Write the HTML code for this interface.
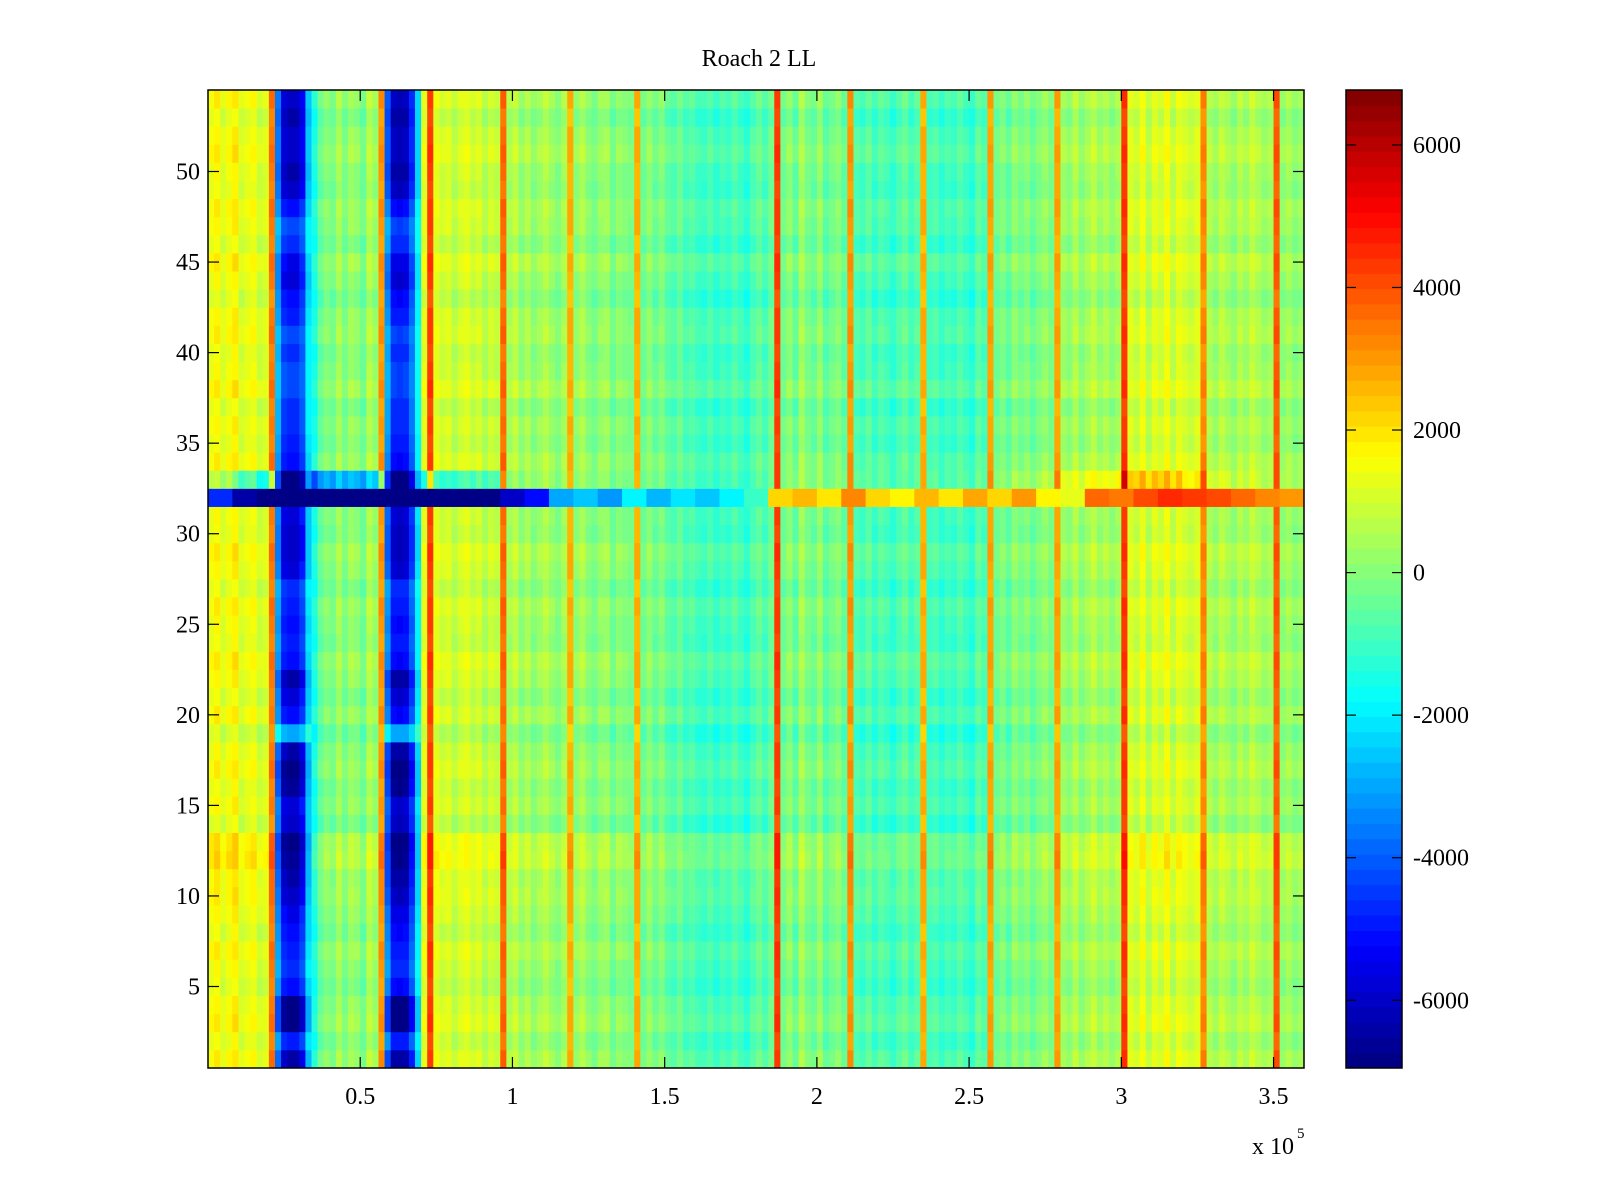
<!DOCTYPE html>
<html><head><meta charset="utf-8"><style>
html,body{margin:0;padding:0;background:#fff;}
svg{display:block;font-family:"Liberation Serif",serif;}
</style></head><body>
<svg id="fig" width="1600" height="1200" viewBox="0 0 1600 1200">
<text x="759" y="66" font-size="24" text-anchor="middle">Roach 2 LL</text>
<g id="cells"></g>
<g id="cbar"></g>
<g id="axes"></g>
</svg>
<script>
// column profile, each column spans 2000 units of x (0 .. 3.6e5)
const colValues = [
1400,1700,1100,1500,1800,1000,1300,1500,900,1100,3400,
-3500,-5500,-5800,-5800,-5000,-2500,-1500,-500,
0,-300,400,-200,300,100,-400,600,200,3000,
-3800,-5800,-5900,-5800,-4500,-2200,1200,4200,
1300,900,1100,600,1000,1200,800,1000,500,900,700,3600,
400,700,100,500,0,300,600,200,-100,400,2600,
100,500,0,-300,200,300,-400,100,-100,-200,2600,
-400,100,-500,0,-600,-800,-400,-900,-700,-1000,-1100,-800,-1200,-900,-1100,-700,-1000,-1300,-800,-500,-900,-400,4200,
-400,100,-600,400,-200,-500,200,-700,-300,0,-600,3000,
-800,-1000,-600,-1100,-700,-900,-1200,-800,-500,-1000,-700,2600,
-1000,-800,-1200,-900,-1100,-700,-1000,-1300,-600,-900,2800,
-400,-100,-600,100,-300,0,-500,-100,200,-200,2800,
300,100,600,0,400,700,200,500,100,400,4300,
1100,800,1400,600,1200,900,1500,700,1300,1000,800,1100,3200,
500,200,700,400,100,600,300,800,500,200,400,3800,
100,400,0,200
];
// per-row offsets for rows 1..54 (bottom to top)
const rowOffsets = [
200,-100,300,100,-200,0,250,-150,100,300,200,600,500,-300,100,-100,200,0,-400,150,
-200,100,300,-100,0,200,-200,100,300,-100,0,0,0,200,-100,100,-200,300,0,-100,
200,100,-300,0,300,-200,100,200,-100,0,300,100,-200,200
];
// depth of the two dark vertical bands per row
const bandDepth = [
1.1,0.85,1.2,1.2,0.9,0.8,0.85,0.9,0.95,1.05,1.1,1.15,1.2,1.05,1.0,1.15,1.2,1.1,0.5,0.9,
1.0,1.1,0.9,0.85,0.9,0.85,0.8,1.0,1.05,1.05,1.0,1.0,1.25,0.9,0.85,0.8,0.8,0.75,0.75,0.8,
0.75,0.85,0.9,1.0,0.95,0.8,0.75,0.9,1.05,1.1,1.05,1.05,1.1,1.05
];
// row 32 values, each spanning 8000 units of x
const row32Values = [
-4800,-6500,-6900,-6900,-6900,-6900,-6900,-6900,-6900,-6900,-6900,-6900,-6000,-5200,-3000,-2500,
-3200,-2000,-2800,-2200,-2600,-2000,-1000,2200,2600,2000,3200,2200,1800,2500,2000,2700,
2200,3000,1800,1200,3600,3400,4000,4600,4400,4000,3700,3300,3000
];
// row 33 offsets, each spanning 8000 units of x
const row33Offsets = [
-800,-2000,-2500,-2500,-2800,-2800,-2800,-2800,-2600,-2200,-1800,-1500,-300,0,0,0,
0,0,0,0,0,0,0,200,300,200,300,200,100,300,200,300,
400,500,600,900,1100,1300,1400,1200,800,600,400,300,300
];
const cbTicks = [6000,4000,2000,0,-2000,-4000,-6000];
const xTicks = [0.5,1,1.5,2,2.5,3,3.5];
const yTicks = [5,10,15,20,25,30,35,40,45,50];

const NS = "http://www.w3.org/2000/svg";
const PL=208, PR=1304, PT=90, PB=1068;
const XMIN=0, XMAX=360000, YMIN=0.5, YMAX=54.5;
const CMIN=-6950, CMAX=6770;
const xs = v => PL + (v-XMIN)/(XMAX-XMIN)*(PR-PL);
const ys = v => PB - (v-YMIN)/(YMAX-YMIN)*(PB-PT);
const cbY = v => PB - (v-CMIN)/(CMAX-CMIN)*(PB-PT);
function jet(t){
  t=Math.max(0,Math.min(0.99999,t));
  t=(Math.floor(t*64)+0.5)/64;
  const c=x=>Math.round(255*Math.max(0,Math.min(1,1.5-Math.abs(x))));
  return `rgb(${c(4*t-3)},${c(4*t-2)},${c(4*t-1)})`;
}
const colorOf = v => jet((v-CMIN)/(CMAX-CMIN));
function el(tag, attrs, parent){
  const e=document.createElementNS(NS,tag);
  for(const k in attrs) e.setAttribute(k,attrs[k]);
  parent.appendChild(e); return e;
}
const cells=document.getElementById('cells');
const colW=(XMAX-XMIN)/colValues.length;
for(let r=0;r<54;r++){
  const row=r+1;
  const y0=ys(row+0.5), y1=ys(row-0.5);
  for(let i=0;i<colValues.length;i++){
    const xc=XMIN+(i+0.5)*colW;
    let v;
    if(row===32){
      v=row32Values[Math.min(row32Values.length-1,Math.floor(xc/8000))];
    } else {
      const base=colValues[i];
      if(base<-2000) v=Math.max(CMIN, base*bandDepth[r]);
      else v=base+rowOffsets[r];
      if(row===33 && base>=-2000) v+=row33Offsets[Math.min(row33Offsets.length-1,Math.floor(xc/8000))];
    }
    const x0=xs(XMIN+i*colW), x1=xs(XMIN+(i+1)*colW);
    const rc=el('rect',{x:x0.toFixed(2),y:y0.toFixed(2),width:(x1-x0+0.4).toFixed(2),height:(y1-y0+0.4).toFixed(2),fill:colorOf(v)},cells);
    
    
  }
}
// colorbar
const cbar=document.getElementById('cbar');
const CBL=1346, CBR=1402;
for(let k=0;k<64;k++){
  const v0=CMIN+k*(CMAX-CMIN)/64, v1=CMIN+(k+1)*(CMAX-CMIN)/64;
  const rc=el('rect',{x:CBL,y:cbY(v1).toFixed(2),width:CBR-CBL,height:(cbY(v0)-cbY(v1)+0.5).toFixed(2),fill:jet((k+0.5)/64)},cbar);
  
  
}
el('rect',{x:CBL,y:PT,width:CBR-CBL,height:PB-PT,fill:'none',stroke:'#000','stroke-width':1.5},cbar);
cbTicks.forEach(t=>{
  const y=cbY(t);
  el('line',{x1:CBL,x2:CBL+10,y1:y,y2:y,stroke:'#000','stroke-width':1.2},cbar);
  el('line',{x1:CBR-10,x2:CBR,y1:y,y2:y,stroke:'#000','stroke-width':1.2},cbar);
  const tx=el('text',{x:1413,y:y+8,'font-size':24},cbar);
  tx.textContent=String(t);
  
  
});
// axes
const axes=document.getElementById('axes');
el('rect',{x:PL,y:PT,width:PR-PL,height:PB-PT,fill:'none',stroke:'#000','stroke-width':1.5},axes);
xTicks.forEach(t=>{
  const x=xs(t*1e5);
  el('line',{x1:x,x2:x,y1:PB,y2:PB-11,stroke:'#000','stroke-width':1.2},axes);
  el('line',{x1:x,x2:x,y1:PT,y2:PT+11,stroke:'#000','stroke-width':1.2},axes);
  const tx=el('text',{x:x,y:1104,'font-size':24,'text-anchor':'middle'},axes);
  tx.textContent=String(t);
  
  
});
yTicks.forEach(t=>{
  const y=ys(t);
  el('line',{x1:PL,x2:PL+11,y1:y,y2:y,stroke:'#000','stroke-width':1.2},axes);
  el('line',{x1:PR-11,x2:PR,y1:y,y2:y,stroke:'#000','stroke-width':1.2},axes);
  const tx=el('text',{x:200,y:y+8,'font-size':24,'text-anchor':'end'},axes);
  tx.textContent=String(t);
  
  
});
const ex=el('text',{x:1252,y:1154,'font-size':24},axes);
ex.textContent='x 10';


const ep=el('text',{x:1297,y:1138,'font-size':15},axes);
ep.textContent='5';


</script>
</body></html>
